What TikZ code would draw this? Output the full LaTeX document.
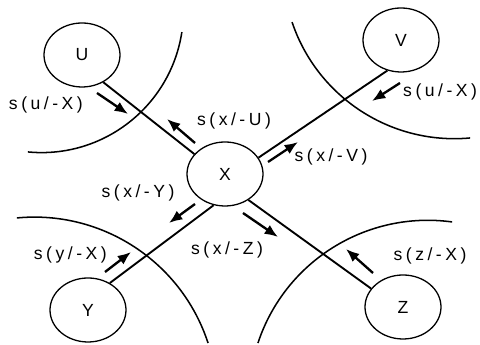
\documentclass[tikz,border=0pt]{standalone}
\usepackage{fontspec}
\newfontfamily\lblfont{Liberation Sans}[LetterSpace=20]
\usetikzlibrary{arrows.meta, shapes.geometric}
\tikzset{
  site/.style={ellipse, draw, line width=1.1pt, minimum width=22.8mm, minimum height=19.2mm,
               inner sep=0pt, font=\lblfont\fontsize{15}{18}\selectfont},
  link/.style={line width=1.6pt},
  zone/.style={line width=1.3pt},
  flow/.style={-{Latex[length=4mm,width=3.2mm]}, line width=2pt},
  lbl/.style={font=\lblfont\fontsize{15}{18}\selectfont, inner sep=0pt},
}
\begin{document}
\begin{tikzpicture}[x=0.3mm, y=0.3mm]
    \useasboundingbox (0,0) rectangle (480,345);

    % the five sites
    \node[site] (U) at (82,290) {U};
    \node[site] (V) at (401,305) {V};
    \node[site] (X) at (225,171) {X};
    \node[site] (Y) at (88,35) {Y};
    \node[site] (Z) at (403,38) {Z};

    % region boundaries
    \draw[zone] (41.5,334.4) ++(-95.5:142) arc[start angle=-95.5, end angle=-8.7, radius=142];
    \draw[zone] (454.3,377.5) ++(198.6:171.2) arc[start angle=198.6, end angle=275.3, radius=171.2];
    \draw[zone] (34.4,-54.8) ++(95.5:182.7) arc[start angle=95.5, end angle=18.1, radius=182.7];
    \draw[zone] (427.8,-54.2) ++(82.2:178.9) arc[start angle=82.2, end angle=161.7, radius=178.9];

    % links to X
    \draw[link] (U.-52) -- (X.147);
    \draw[link] (V.-114) -- (X.26);
    \draw[link] (Y.51) -- (X.-110);
    \draw[link] (Z.150) -- (X.-48);

    % signals
    \draw[flow] (97,252) -- (128,231);
    \draw[flow] (195,202) -- (167,226);
    \draw[flow] (400,262) -- (372,244);
    \draw[flow] (268,183) -- (298,203);
    \draw[flow] (195,141) -- (169,122);
    \draw[flow] (105,73) -- (131,93);
    \draw[flow] (243,132) -- (278,108);
    \draw[flow] (373,72) -- (346,96);

    \node[lbl, anchor=east] (suX) at (83,240) {s(u/-X)};
    \node[lbl] (sxU) at (234,224) {s(x/-U)};
    \node[lbl, anchor=west] (svX) at (403,253) {s(u/-X)};
    \node[lbl] (sxV) at (331,188) {s(x/-V)};
    \node[lbl] (sxY) at (138,152) {s(x/-Y)};
    \node[lbl, anchor=east] (syX) at (107,90) {s(y/-X)};
    \node[lbl] (sxZ) at (227,95) {s(x/-Z)};
    \node[lbl] (szX) at (430,89) {s(z/-X)};
\end{tikzpicture}
\end{document}
